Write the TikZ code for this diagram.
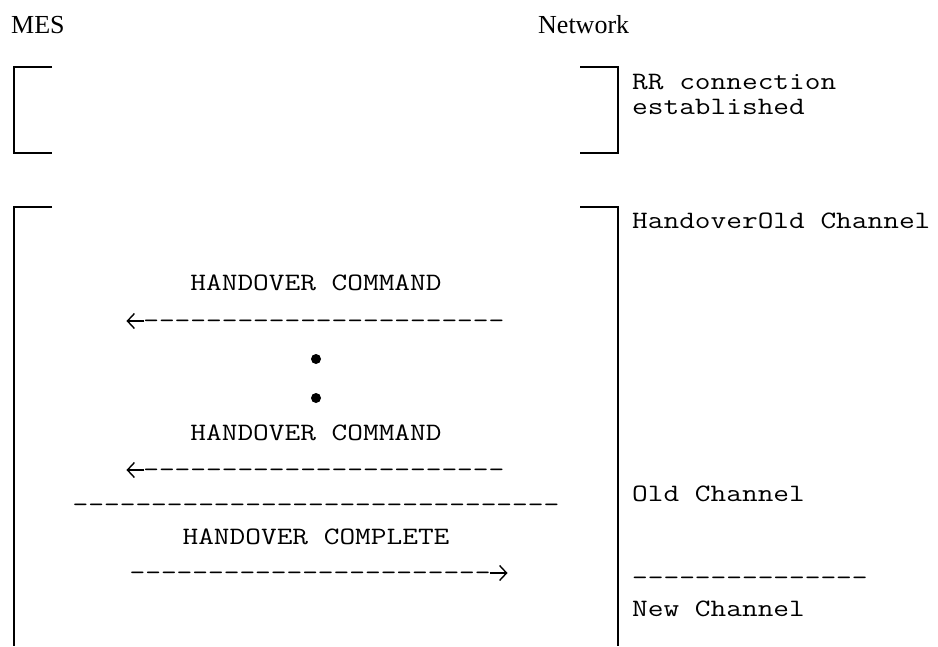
\documentclass[tikz,border=0pt]{standalone}
\usepackage{fontspec}
\usetikzlibrary{arrows.meta}
\setmainfont{Liberation Serif}
\setmonofont{Latin Modern Mono}[FakeStretch=1.219]
\begin{document}
\begin{tikzpicture}[x=1pt,y=-1pt,
  hdr/.style={inner sep=0pt, anchor=base west, font=\fontsize{26}{26}\selectfont},
  txt/.style={inner sep=0pt, anchor=base west, font=\ttfamily\fontsize{25}{25}\selectfont},
  msg/.style={inner sep=0pt, anchor=base, font=\ttfamily\fontsize{25}{25}\selectfont},
  bracket/.style={line width=2pt},
  glyph/.style={line width=1.4pt, -{Straight Barb[length=7pt,width=15pt,line width=1.4pt]}},
  dot/.style={circle, fill=black, inner sep=0pt, minimum size=10pt}]
\useasboundingbox (0,0) rectangle (938,646);

% column headings
\node[hdr] (mes) at (11,33) {MES};
\node[hdr] (net) at (538,33) {Network};

% first phase: RR connection
\draw[bracket] (52,67) -- (14,67) -- (14,153) -- (52,153);
\draw[bracket] (580,67) -- (618,67) -- (618,153) -- (580,153);
\node[txt] (rr1) at (632,89) {RR connection};
\node[txt] (rr2) at (632,114) {established};

% second phase: handover
\draw[bracket] (52,207) -- (14,207) -- (14,646);
\draw[bracket] (580,207) -- (618,207) -- (618,646);
\node[txt] (ho) at (632,228) {HandoverOld Channel};

\node[msg] (cmd1) at (316,290) {HANDOVER COMMAND};
\node[msg] (arr1) at (316,328) {\hphantom{-}-----------------------};
\draw[glyph] ([xshift=17pt,yshift=7pt]arr1.base west) -- ([xshift=-1pt,yshift=7pt]arr1.base west);
\node[dot] (d1) at (316,359) {};
\node[dot] (d2) at (316,398) {};
\node[msg] (cmd2) at (316,440) {HANDOVER COMMAND};
\node[msg] (arr2) at (316,477) {\hphantom{-}-----------------------};
\draw[glyph] ([xshift=17pt,yshift=7pt]arr2.base west) -- ([xshift=-1pt,yshift=7pt]arr2.base west);
\node[msg] (sep) at (316,512) {-------------------------------};
\node[txt] (old) at (632,501) {Old Channel};
\node[msg] (cmp) at (316,544) {HANDOVER COMPLETE};
\node[msg] (arr3) at (318,580) {-----------------------\hphantom{-}};
\draw[glyph] ([xshift=-17pt,yshift=7pt]arr3.base east) -- ([xshift=1pt,yshift=7pt]arr3.base east);
\node[txt] (rsep) at (632,585) {---------------};
\node[txt] (new) at (632,616) {New Channel};
\end{tikzpicture}
\end{document}
